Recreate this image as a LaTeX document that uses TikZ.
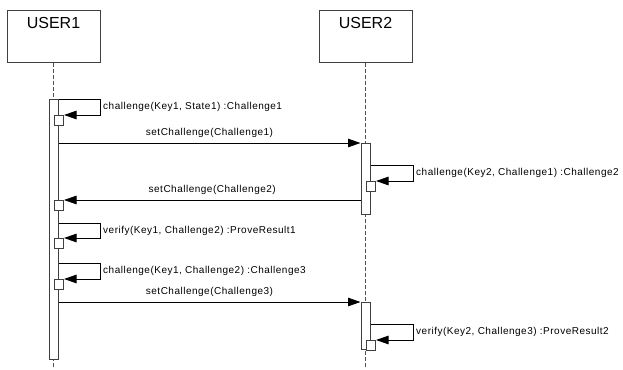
\documentclass[tikz,border=0pt]{standalone}
\usepackage{fontspec}
\setmainfont{Liberation Sans}
\newfontfamily\msgfont[LetterSpace=5]{Liberation Sans}
\usepackage{xcolor}
\definecolor{boxline}{HTML}{404040}
\definecolor{lifeline}{HTML}{505050}
\usepackage{tikz}
\usetikzlibrary{arrows.meta,positioning,calc}

\tikzset{
  userbox/.style={draw=boxline, line width=1pt, fill=white, anchor=north,
    minimum width=93pt, minimum height=52pt, inner ysep=7pt,
    text height=11.5pt, text depth=26.5pt, font=\fontsize{16}{18}\selectfont},
  actbar/.style={draw=boxline, line width=1pt, fill=white, anchor=north,
    minimum width=9pt, inner sep=0pt},
  callbox/.style={draw=boxline, line width=1pt, fill=white, anchor=north west,
    minimum width=9pt, minimum height=10pt, inner sep=0pt},
  msg/.style={draw=black, line width=1pt, -{Triangle[length=12.5pt,width=8.5pt]}},
  msglabel/.style={font=\msgfont\fontsize{10}{12}\selectfont, inner sep=0pt},
  lifedash/.style={draw=lifeline, line width=1pt, dash pattern=on 4pt off 2pt}
}

\begin{document}
\begin{tikzpicture}[x=1pt,y=-1pt]
  \useasboundingbox (0,0) rectangle (623,369);

  % objects and their lifelines
  \node[userbox] (user1) at (53.5,10) {USER1};
  \node[userbox] (user2) at (365.5,10) {USER2};
  \coordinate (end1) at (53.5,367);
  \coordinate (end2) at (365.5,367);
  \draw[lifedash] (user1.south) -- (end1);
  \draw[lifedash] (user2.south) -- (end2);

  % activations
  \node[actbar, minimum height=260pt] (act1) at (53.5,99) {};
  \node[actbar, minimum height=71pt] (act2) at (365.5,143) {};
  \node[actbar, minimum height=47pt] (act3) at (365.5,302) {};

  % self calls of USER1
  \foreach \n/\t/\b/\txt in {a/99/115/{challenge(Key1, State1) :Challenge1},
                             b/223/238/{verify(Key1, Challenge2) :ProveResult1},
                             c/263/279/{challenge(Key1, Challenge2) :Challenge3}} {
    \node[callbox] (box\n) at (54,\b) {};
    \draw[msg] (act1.east |- 0,\t) -- ++(42,0) |- (box\n.north east);
    \node[msglabel, anchor=west] (lbl\n) at (103,{(\t+\b)/2}) {\txt};
  }

  % self calls of USER2
  \foreach \n/\bar/\t/\b/\txt in {d/act2/165/181/{challenge(Key2, Challenge1) :Challenge2},
                                  e/act3/324/340/{verify(Key2, Challenge3) :ProveResult2}} {
    \node[callbox] (box\n) at (366,\b) {};
    \draw[msg] (\bar.east |- 0,\t) -- ++(43,0) |- (box\n.north east);
    \node[msglabel, anchor=west] (lbl\n) at (416,{(\t+\b)/2}) {\txt};
  }

  % messages between the users
  \node[callbox] (boxr) at (54,200) {};
  \draw[msg] (act1.east |- act2.north) -- (act2.north west)
    node[msglabel, midway, above=5pt] (m1) {setChallenge(Challenge1)};
  \draw[msg] (act2.west |- boxr.north) -- (boxr.north east)
    node[msglabel, midway, above=5pt] (m2) {setChallenge(Challenge2)};
  \draw[msg] (act1.east |- act3.north) -- (act3.north west)
    node[msglabel, midway, above=5pt] (m3) {setChallenge(Challenge3)};
\end{tikzpicture}
\end{document}
